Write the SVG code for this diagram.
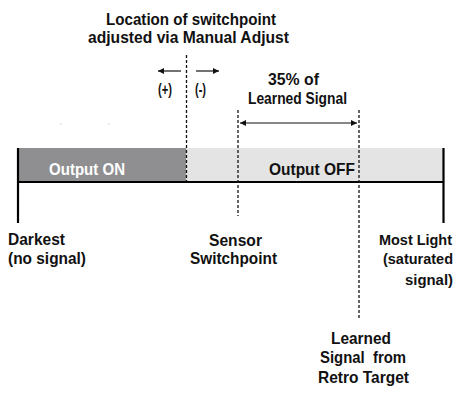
<svg xmlns="http://www.w3.org/2000/svg" width="457" height="394" viewBox="0 0 457 394">
<defs>
<style>
text{font-family:"Liberation Sans",Arial,sans-serif;font-weight:bold;font-size:16.5px;fill:#111;}
.w{fill:#fff;}
.e{text-anchor:end;font-size:15px;}
.dash{stroke:#111;stroke-width:1.3;stroke-dasharray:3 2;fill:none;}
.solid{stroke:#000;stroke-width:2.2;fill:none;}
.arr{stroke:#111;stroke-width:1.2;fill:none;}
</style>
<marker id="ah" viewBox="0 0 10 10" refX="10" refY="5" markerWidth="9" markerHeight="6" markerUnits="userSpaceOnUse" orient="auto-start-reverse">
<path d="M0,0 L10,5 L0,10 z" fill="#111"/>
</marker>
</defs>
<rect width="457" height="394" fill="#fff"/>
<g id="bar">
<rect x="18" y="148" width="168" height="34" fill="#8f8f92"/>
<rect x="186" y="148" width="257" height="34" fill="#e4e4e4"/>
<text class="w" x="49" y="175" textLength="76" lengthAdjust="spacingAndGlyphs">Output ON</text>
<text x="269" y="175" textLength="86" lengthAdjust="spacingAndGlyphs">Output OFF</text>
</g>
<g id="connectors">
<line class="solid" x1="18" y1="148" x2="18" y2="223"/>
<line class="solid" x1="443.5" y1="148" x2="443.5" y2="223"/>
<line class="solid" x1="18" y1="182" x2="443.5" y2="182"/>
<line class="dash" x1="186.5" y1="55" x2="186.5" y2="181"/>
<line class="dash" x1="238" y1="110" x2="238" y2="216"/>
<line class="dash" x1="359" y1="110" x2="359" y2="318"/>
<line class="arr" x1="181" y1="71" x2="158" y2="71" marker-end="url(#ah)"/>
<line class="arr" x1="196" y1="71" x2="219" y2="71" marker-end="url(#ah)"/>
<line class="arr" x1="240" y1="123" x2="357" y2="123" marker-start="url(#ah)" marker-end="url(#ah)"/>
<rect x="60.5" y="123.5" width="1" height="1" fill="#aaa"/>
<rect x="108.5" y="123.5" width="1" height="1" fill="#aaa"/>
</g>
<g id="title">
<text x="106" y="25" textLength="170" lengthAdjust="spacingAndGlyphs">Location of switchpoint</text>
<text x="88" y="43" textLength="201" lengthAdjust="spacingAndGlyphs">adjusted via Manual Adjust</text>
</g>
<g id="adjust">
<text x="158" y="95" textLength="14" lengthAdjust="spacingAndGlyphs">(+)</text>
<text x="195" y="95" textLength="11" lengthAdjust="spacingAndGlyphs">(-)</text>
</g>
<g id="pct">
<text x="268" y="85" textLength="51" lengthAdjust="spacingAndGlyphs">35% of</text>
<text x="248" y="104" textLength="99" lengthAdjust="spacingAndGlyphs">Learned Signal</text>
</g>
<g id="darkest">
<text x="8" y="245" textLength="57" lengthAdjust="spacingAndGlyphs">Darkest</text>
<text x="8" y="264" textLength="78" lengthAdjust="spacingAndGlyphs">(no signal)</text>
</g>
<g id="sensor">
<text x="209" y="246" textLength="53" lengthAdjust="spacingAndGlyphs">Sensor</text>
<text x="190" y="264" textLength="87" lengthAdjust="spacingAndGlyphs">Switchpoint</text>
</g>
<g id="mostlight">
<text class="e" x="452" y="245" textLength="73" lengthAdjust="spacingAndGlyphs">Most Light</text>
<text class="e" x="453" y="264" textLength="70" lengthAdjust="spacingAndGlyphs">(saturated</text>
<text class="e" x="453" y="285" textLength="48" lengthAdjust="spacingAndGlyphs">signal)</text>
</g>
<g id="learned">
<text x="331" y="344" textLength="60" lengthAdjust="spacingAndGlyphs">Learned</text>
<text x="320" y="363" textLength="86" lengthAdjust="spacingAndGlyphs" xml:space="preserve">Signal  from</text>
<text x="318" y="383" textLength="91" lengthAdjust="spacingAndGlyphs">Retro Target</text>
</g>
</svg>
